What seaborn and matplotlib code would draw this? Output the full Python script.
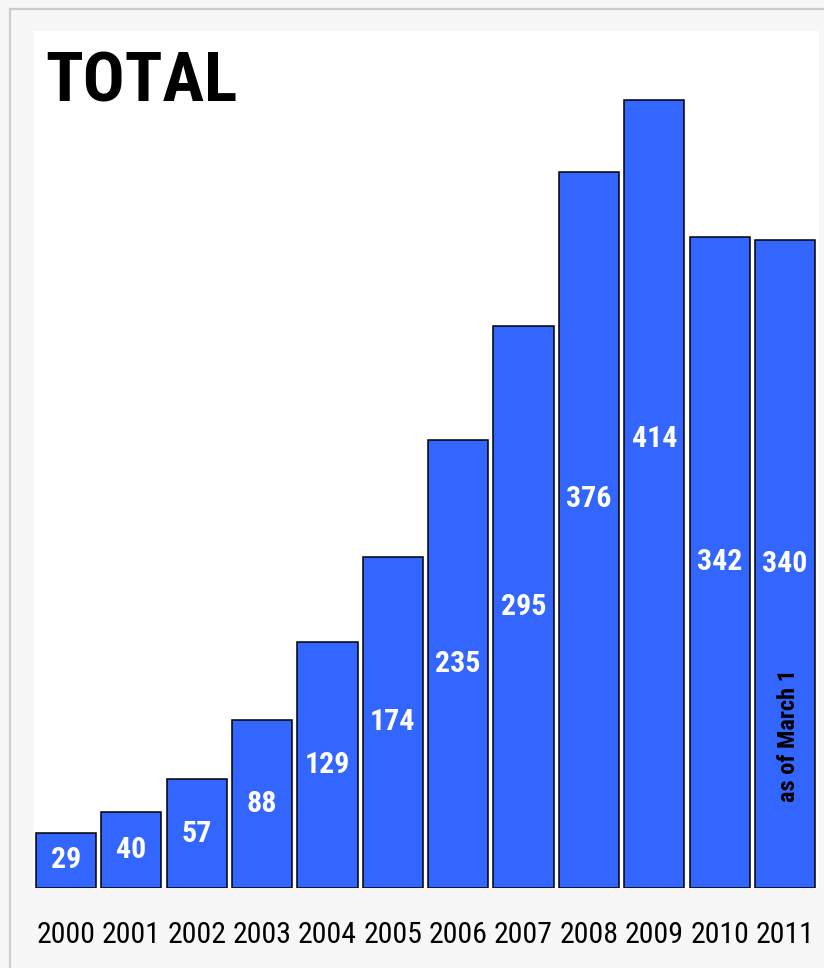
import matplotlib.pyplot as plt
import pandas as pd
import seaborn as sns
from matplotlib import font_manager
from matplotlib.patches import Rectangle

sns.set_theme(style="white")

# pick an Arial Narrow look-alike from whatever is installed
installed = {f.name for f in font_manager.fontManager.ttflist}
narrow = next((n for n in ["Liberation Sans Narrow", "Arial Narrow", "Roboto Condensed",
                           "Archivo Narrow", "Barlow Semi Condensed"] if n in installed),
              "DejaVu Sans")
plt.rcParams['font.family'] = [narrow, 'DejaVu Sans']

years = ["2000", "2001", "2002", "2003", "2004", "2005",
         "2006", "2007", "2008", "2009", "2010", "2011"]
totals = [29, 40, 57, 88, 129, 174, 235, 295, 376, 414, 342, 340]
note = "as of March 1"

df = pd.DataFrame({"year": years, "total": totals})

fig = plt.figure(figsize=(8.24, 9.68), dpi=100, facecolor="#f7f7f7")
fig.patches.append(Rectangle((10 / 824, -0.05), 1.1, (968 - 9) / 968 + 0.05,
                             transform=fig.transFigure, facecolor="none",
                             edgecolor="#cccccc", linewidth=1.6, zorder=0))
ax = fig.add_axes([34 / 824, 80 / 968, 785 / 824, 857 / 968])
ax.set_facecolor("white")

sns.barplot(data=df, x="year", y="total", color="#3366ff", saturation=1,
            width=0.92, edgecolor="black", linewidth=1.1, ax=ax)

ax.set_xlim(-0.49, 11.52)
ax.set_ylim(0, 450)
ax.set_xlabel("")
ax.set_ylabel("")
ax.set_yticks([])
for s in ax.spines.values():
    s.set_visible(False)
ax.tick_params(axis="x", length=0, pad=24, labelsize=21.5, labelcolor="black")

# labels sit at mid-bar, the two tallest are nudged down
nudge = {8: 204, 9: 236}
for i, v in enumerate(totals):
    y = nudge.get(i, v / 2)
    ax.text(i, y, str(v), ha="center", va="center", color="white",
            fontsize=21.5, fontweight="bold")

ax.text(11.05, 80, note, rotation=90, ha="center", va="center",
        color="black", fontsize=17.5, fontweight="bold")

fig.text(45 / 824, (968 - 102) / 968, "TOTAL", ha="left", va="baseline",
         fontsize=50, fontweight="bold", color="black")

fig.savefig("out.png", dpi=100, facecolor=fig.get_facecolor())
